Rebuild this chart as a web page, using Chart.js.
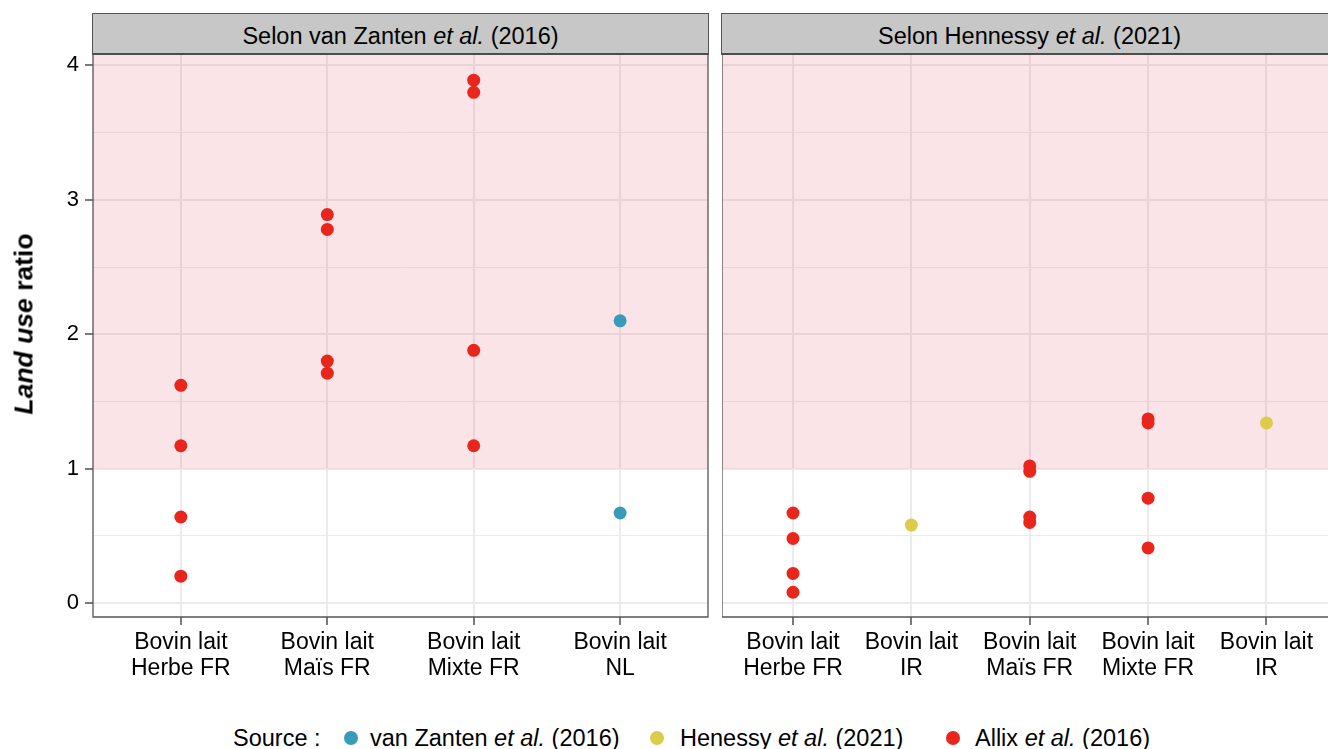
<!DOCTYPE html>
<html>
<head>
<meta charset="utf-8">
<script src="https://cdn.jsdelivr.net/npm/chart.js@4.4.1/dist/chart.umd.min.js"></script>
<style>
  html, body { margin: 0; padding: 0; background: #fff; }
  body { width: 1328px; height: 749px; position: relative; overflow: hidden; font-family: 'Liberation Sans', Arial, sans-serif; color: #000; }
  canvas { position: absolute; }
  .strip { position: absolute; top: 13px; height: 39px; background: #c6c7c6; border: 1px solid #555; border-bottom: 2px solid #4d4d4d; font-size: 23.5px; line-height: 45px; text-align: center; box-sizing: content-box; }
  .ytitle { position: absolute; left: 24px; top: 324px; transform: translate(-50%, -50%) rotate(-90deg); font-size: 26.5px; font-weight: bold; white-space: nowrap; }
  .lg { position: absolute; top: 725px; font-size: 23.5px; line-height: 26px; white-space: nowrap; }
  .dot { position: absolute; top: 731px; width: 14px; height: 14px; border-radius: 50%; }
</style>
</head>
<body>
<canvas id="left"></canvas>
<canvas id="right"></canvas>
<div class="strip" style="left:92px; width:615px;">Selon van Zanten <i>et al.</i> (2016)</div>
<div class="strip" style="left:721px; width:615px;">Selon Hennessy <i>et al.</i> (2021)</div>
<div class="ytitle"><i>Land use</i> ratio</div>
<span class="lg" style="left:233px">Source :</span>
<span class="dot" style="left:344px; background:#3A9BB8"></span>
<span class="lg" style="left:370px">van Zanten <i>et al.</i> (2016)</span>
<span class="dot" style="left:650px; background:#DDCB4B"></span>
<span class="lg" style="left:680px">Henessy <i>et al.</i> (2021)</span>
<span class="dot" style="left:946px; background:#E8261C"></span>
<span class="lg" style="left:975px">Allix <i>et al.</i> (2016)</span>
<script>
// categories per panel
const leftCategories = [['Bovin lait', 'Herbe FR'], ['Bovin lait', 'Maïs FR'], ['Bovin lait', 'Mixte FR'], ['Bovin lait', 'NL']];
const rightCategories = [['Bovin lait', 'Herbe FR'], ['Bovin lait', 'IR'], ['Bovin lait', 'Maïs FR'], ['Bovin lait', 'Mixte FR'], ['Bovin lait', 'IR']];

// values: [category index, land use ratio]
const leftAllix = [[0, 1.62], [0, 1.17], [0, 0.64], [0, 0.20],
                   [1, 2.89], [1, 2.78], [1, 1.80], [1, 1.71],
                   [2, 3.89], [2, 3.80], [2, 1.88], [2, 1.17]];
const leftVanZanten = [[3, 2.10], [3, 0.67]];
const rightAllix = [[0, 0.67], [0, 0.48], [0, 0.22], [0, 0.08],
                    [2, 1.02], [2, 0.98], [2, 0.64], [2, 0.60],
                    [3, 1.37], [3, 1.34], [3, 0.78], [3, 0.41]];
const rightHennessy = [[1, 0.58], [4, 1.34]];

const yTicks = [0, 0.5, 1, 1.5, 2, 2.5, 3, 3.5, 4];
const THRESHOLD = 1;

const RED = '#E8261C', BLUE = '#3A9BB8', YELLOW = '#DDCB4B';
const FONT = 'Liberation Sans';

const toPts = (arr) => arr.map(([x, y]) => ({ x, y }));

// pink zone above ratio 1, drawn over the grid, under the points
const zonePlugin = {
    id: 'zone',
    beforeDatasetsDraw(chart) {
        const { ctx, chartArea, scales } = chart;
        const yPix = scales.y.getPixelForValue(THRESHOLD);
        ctx.save();
        ctx.fillStyle = 'rgba(235,105,120,0.18)';
        ctx.fillRect(chartArea.left, chartArea.top, chartArea.right - chartArea.left, yPix - chartArea.top);
        ctx.restore();
    },
};

const borderPlugin = {
    id: 'panelBorder',
    afterDraw(chart, args, opts) {
        const { ctx, chartArea } = chart;
        const r = chartArea.right + (opts.openRight ? 20 : 0);
        ctx.save();
        ctx.strokeStyle = '#555';
        ctx.lineWidth = 1.3;
        ctx.beginPath();
        ctx.moveTo(r, chartArea.top);
        ctx.lineTo(chartArea.left, chartArea.top);
        ctx.lineTo(chartArea.left, chartArea.bottom);
        ctx.lineTo(r, chartArea.bottom);
        if (!opts.openRight) ctx.lineTo(chartArea.right, chartArea.top);
        ctx.stroke();
        ctx.restore();
    },
};

function makePanel(id, left, width, categories, datasets, xMax, showY, openRight) {
    const canvas = document.getElementById(id);
    canvas.style.left = left + 'px';
    canvas.style.top = '0px';
    canvas.width = width;
    canvas.height = 700;
    canvas.style.width = width + 'px';
    canvas.style.height = '700px';

    return new Chart(canvas, {
        type: 'scatter',
        data: { datasets },
        plugins: [zonePlugin, borderPlugin],
        options: {
            responsive: false,
            animation: false,
            layout: {
                autoPadding: false,
                padding: { top: 54, right: openRight ? 0 : 2, bottom: 0, left: 0 },
            },
            plugins: {
                legend: { display: false },
                tooltip: { enabled: false },
                panelBorder: { openRight },
            },
            scales: {
                x: {
                    type: 'linear',
                    min: -0.6,
                    max: xMax,
                    afterBuildTicks: (scale) => { scale.ticks = categories.map((c, i) => ({ value: i })); },
                    afterFit: (scale) => {
                        scale.height = 83;
                        scale.paddingLeft = 0;
                        scale.paddingRight = 0;
                    },
                    grid: {
                        color: '#ebebeb',
                        lineWidth: 2,
                        tickColor: '#333',
                        tickLength: 8,
                        tickWidth: 1.3,
                    },
                    border: { display: false },
                    ticks: {
                        autoSkip: false,
                        maxRotation: 0,
                        padding: 5,
                        color: '#000',
                        font: { family: FONT, size: 23, lineHeight: 1.13 },
                        callback: (v) => categories[v],
                    },
                },
                y: {
                    type: 'linear',
                    min: -0.104,
                    max: 4.085,
                    afterBuildTicks: (scale) => { scale.ticks = yTicks.map((v) => ({ value: v })); },
                    afterFit: (scale) => {
                        scale.width = showY ? 93 : 0;
                        scale.paddingTop = 0;
                        scale.paddingBottom = 0;
                    },
                    grid: {
                        color: '#ebebeb',
                        lineWidth: (c) => (c.tick && c.tick.value % 1 === 0 ? 2 : 1),
                        tickColor: (c) => (c.tick && c.tick.value % 1 === 0 && showY ? '#333' : 'rgba(0,0,0,0)'),
                        tickLength: 8,
                        tickWidth: 1.3,
                        drawTicks: showY,
                    },
                    border: { display: false },
                    ticks: {
                        display: showY,
                        padding: 6,
                        color: '#000',
                        font: { family: FONT, size: 22 },
                        callback: (v) => (v % 1 === 0 ? String(v) : ''),
                    },
                },
            },
        },
    });
}

const pointStyle = (color) => ({
    backgroundColor: color,
    borderWidth: 0,
    pointRadius: 6.5,
    pointHoverRadius: 6.5,
});

makePanel('left', 0, 710, leftCategories, [
    { label: 'van Zanten et al. (2016)', data: toPts(leftVanZanten), ...pointStyle(BLUE) },
    { label: 'Allix et al. (2016)', data: toPts(leftAllix), ...pointStyle(RED) },
], 3.6, true, false);

makePanel('right', 722, 606, rightCategories, [
    { label: 'Henessy et al. (2021)', data: toPts(rightHennessy), ...pointStyle(YELLOW) },
    { label: 'Allix et al. (2016)', data: toPts(rightAllix), ...pointStyle(RED) },
], 4.52, false, true);
</script>
</body>
</html>
